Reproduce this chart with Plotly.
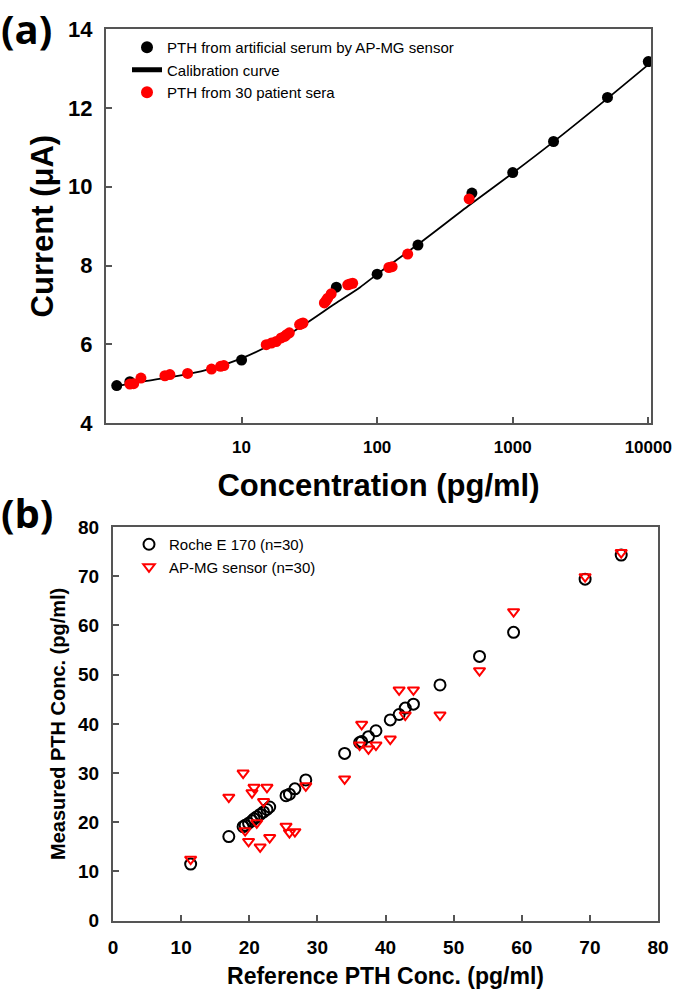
import plotly.graph_objects as go

# ---------- Panel (a) data ----------
serum_conc = [1.2, 1.5, 10, 50, 100, 200, 500, 1000, 2000, 5000, 10000]
serum_current = [4.95, 5.05, 5.6, 7.45, 7.78, 8.52, 9.84, 10.36, 11.15, 12.27, 13.18]

curve_conc = [1.16, 2, 4, 6, 10, 16.6, 27.6, 48.5, 75, 100, 197, 486, 984, 1995, 4900, 9900]
curve_current = [4.93, 5.07, 5.24, 5.38, 5.64, 6.0, 6.45, 7.02, 7.45, 7.78, 8.52, 9.55, 10.33, 11.14, 12.22, 13.09]

patient_conc = [1.5, 1.6, 1.81, 2.72, 2.96, 4.0, 6.0, 7.0, 7.4,
                15.2, 16.6, 18.0, 19.6, 20.8, 21.4, 22.5,
                26.8, 27.5, 28.4, 40.8, 42.0, 43.2, 45.8,
                60.7, 63.0, 66.0, 122, 129, 168, 477]
patient_current = [4.99, 5.0, 5.14, 5.20, 5.23, 5.26, 5.37, 5.44, 5.46,
                   5.99, 6.03, 6.07, 6.16, 6.20, 6.24, 6.29,
                   6.50, 6.52, 6.54, 7.05, 7.11, 7.17, 7.28,
                   7.51, 7.53, 7.55, 7.95, 7.97, 8.29, 9.69]

# ---------- Panel (b) data ----------
reference_pth = [11.4, 17.0, 19.1, 19.4, 19.9, 20.4, 20.7, 21.1, 21.6, 22.1,
                 22.6, 23.0, 25.4, 25.9, 26.7, 28.3, 34.0, 36.2, 36.5, 37.5,
                 38.6, 40.7, 42.0, 42.9, 44.1, 48.0, 53.8, 58.8, 69.3, 74.6]
roche_pth = [11.5, 17.1, 19.1, 19.4, 19.8, 20.3, 20.7, 21.1, 21.6, 22.1,
             22.6, 23.1, 25.4, 25.7, 26.8, 28.6, 34.0, 36.2, 36.4, 37.4,
             38.6, 40.8, 41.9, 43.2, 44.0, 47.9, 53.7, 58.6, 69.4, 74.3]
sensor_pth = [12.5, 25.1, 30.0, 18.3, 16.1, 26.0, 27.1, 19.9, 15.0, 24.2,
              27.1, 16.9, 19.2, 17.9, 18.1, 27.4, 28.8, 35.7, 39.9, 34.9,
              35.7, 36.9, 46.9, 41.8, 46.9, 41.8, 50.8, 62.8, 69.9, 74.8]

a_yticks = [4, 6, 8, 10, 12, 14]
a_xticks = [10, 100, 1000, 10000]
b_ticks = [0, 10, 20, 30, 40, 50, 60, 70, 80]

W, H = 675, 995
FONT = "Liberation Sans, Arial, sans-serif"
AX = "#555555"

fig = go.Figure()

fig.add_trace(go.Scatter(
    x=curve_conc, y=curve_current, mode="lines", name="Calibration curve",
    line=dict(color="black", width=1.8, shape="spline", smoothing=0.8),
    xaxis="x", yaxis="y", legend="legend", legendrank=2))
fig.add_trace(go.Scatter(
    x=serum_conc, y=serum_current, mode="markers",
    name="PTH from artificial serum by AP-MG sensor",
    marker=dict(color="black", size=11), xaxis="x", yaxis="y",
    legend="legend", legendrank=1))
fig.add_trace(go.Scatter(
    x=patient_conc, y=patient_current, mode="markers",
    name="PTH from 30 patient sera",
    marker=dict(color="#ff0000", size=11), xaxis="x", yaxis="y",
    legend="legend", legendrank=3))

fig.add_trace(go.Scatter(
    x=reference_pth, y=roche_pth, mode="markers", name="Roche E 170 (n=30)",
    marker=dict(symbol="circle-open", color="black", size=11, line=dict(width=2)),
    xaxis="x2", yaxis="y2", legend="legend2"))
fig.add_trace(go.Scatter(
    x=reference_pth, y=sensor_pth, mode="markers", name="AP-MG sensor (n=30)",
    marker=dict(symbol="triangle-down-open", color="#ff0000", size=10, line=dict(width=2)),
    xaxis="x2", yaxis="y2", legend="legend2"))

def px_x(v):
    return v / W

def px_y(v):
    return 1 - v / H

axis_common = dict(showline=True, linecolor=AX, linewidth=2, mirror=True,
                   ticks="inside", ticklen=6, tickcolor=AX, tickwidth=1.5,
                   showgrid=False, zeroline=False, automargin=False)

fig.update_layout(
    width=W, height=H, margin=dict(l=0, r=0, t=0, b=0, pad=0, autoexpand=False),
    paper_bgcolor="white", plot_bgcolor="white",
    font=dict(family=FONT, color="black"),
    xaxis=dict(domain=[px_x(106), px_x(651)], type="log", range=[0.0, 4.02],
               tickvals=a_xticks, ticktext=[str(t) for t in a_xticks],
               tickfont=dict(size=17, weight="bold"), ticklabelstandoff=8,
               title=dict(text="Concentration (pg/ml)", font=dict(size=31, weight="bold"),
                          standoff=18),
               anchor="y", **axis_common),
    yaxis=dict(domain=[px_y(423), px_y(29.3)], range=[4, 14],
               tickvals=a_yticks, tickfont=dict(size=22, weight="bold"),
               ticklabelstandoff=7,
               title=dict(text="Current (\u03bcA)", font=dict(size=31, weight="bold"),
                          standoff=5),
               anchor="x", **axis_common),
    xaxis2=dict(domain=[px_x(113), px_x(658)], range=[0, 80],
                tickvals=b_ticks, tickfont=dict(size=19, weight="bold"),
                ticklabelstandoff=8,
                title=dict(text="Reference PTH Conc. (pg/ml)", font=dict(size=23, weight="bold"),
                           standoff=11),
                anchor="y2", **axis_common),
    yaxis2=dict(domain=[px_y(920.7), px_y(527)], range=[0, 80],
                tickvals=b_ticks, tickfont=dict(size=19, weight="bold"),
                ticklabelstandoff=8,
                title=dict(text="Measured PTH Conc. (pg/ml)", font=dict(size=20, weight="bold"),
                           standoff=7),
                anchor="x2", **axis_common),
    legend=dict(x=px_x(127), y=px_y(31), xanchor="left", yanchor="top",
                bgcolor="rgba(0,0,0,0)", font=dict(size=15, family=FONT),
                tracegroupgap=0, itemsizing="constant"),
    legend2=dict(x=px_x(129), y=px_y(528), xanchor="left", yanchor="top",
                 bgcolor="rgba(0,0,0,0)", font=dict(size=15, family=FONT),
                 tracegroupgap=0),
    showlegend=True,
    annotations=[
        dict(text="<b>(a)</b>", x=0, y=1, xref="paper", yref="paper",
             xanchor="left", yanchor="top", showarrow=False, borderpad=0,
             font=dict(size=40, family="Open Sans, sans-serif")),
        dict(text="<b>(b)</b>", x=0, y=px_y(484), xref="paper", yref="paper",
             xanchor="left", yanchor="top", showarrow=False, borderpad=0,
             font=dict(size=40, family="Open Sans, sans-serif")),
    ],
)

fig.write_html("out.html", config={"displayModeBar": False},
               post_script="document.body.style.margin='0px';")
